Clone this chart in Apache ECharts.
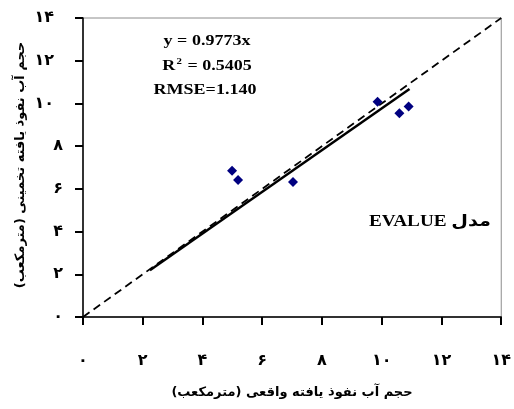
<!DOCTYPE html>
<html>
<head>
<meta charset="utf-8">
<script src="https://cdn.jsdelivr.net/npm/echarts@6/dist/echarts.min.js"></script>
<style>
html,body{margin:0;padding:0;background:#fff;}
#chart{width:514px;height:409px;}
</style>
</head>
<body>
<div id="chart"></div>
<script>
// ---- data ----
const tickValues = [0, 2, 4, 6, 8, 10, 12, 14];
const tickLabels = ['۰', '۲', '۴', '۶', '۸', '۱۰', '۱۲', '۱۴'];
const observed  = [4.99, 5.19, 7.03, 9.86, 10.59, 10.90];   // actual infiltrated volume
const estimated = [6.85, 6.41, 6.32, 10.08, 9.54, 9.86];    // estimated volume
const trendX = [2.24, 10.93];
const trendY = [2.19, 10.68];
const refX = [0, 14];
const refY = [0, 14];
const eqText = 'y = 0.9773x';
const r2Value = '0.5405';
const rmseText = 'RMSE=1.140';
const modelText = 'مدل EVALUE';
const xTitle = 'حجم آب نفوذ یافته واقعی (مترمکعب)';
const yTitle = 'حجم آب نفوذ یافته تخمینی (مترمکعب)';

const RLE = '\u202B', PDF = '\u202C';
const serif = "'Liberation Serif', 'Times New Roman', 'DejaVu Sans', serif";
const arab = "'DejaVu Sans', 'Liberation Serif', serif";

const chart = echarts.init(document.getElementById('chart'), null, {renderer: 'canvas'});
const labelFor = v => tickLabels[tickValues.indexOf(v)];

const option = {
  animation: false,
  backgroundColor: '#fff',
  grid: {left: 83, top: 18, right: 12, bottom: 92, show: true, borderColor: '#8c8c8c', borderWidth: 1},
  xAxis: {
    type: 'value', min: 0, max: 14, interval: 2,
    axisLine: {show: true, onZero: false, lineStyle: {color: '#000', width: 1.5}},
    axisTick: {show: true, length: 8, lineStyle: {color: '#000', width: 2}},
    splitLine: {show: false},
    axisLabel: {show: true, margin: 36, fontSize: 16, fontWeight: 'bold', color: '#000', fontFamily: arab,
      showMinLabel: true, showMaxLabel: true, formatter: v => labelFor(v)}
  },
  yAxis: {
    type: 'value', min: 0, max: 14, interval: 2,
    axisLine: {show: true, onZero: false, lineStyle: {color: '#000', width: 1.5}},
    axisTick: {show: true, length: 8, lineStyle: {color: '#000', width: 2}},
    splitLine: {show: false},
    axisLabel: {show: true, margin: 20, fontSize: 16, fontWeight: 'bold', color: '#000', fontFamily: arab,
      showMinLabel: true, showMaxLabel: true,
      formatter: v => { const s = labelFor(v); return s.length > 1 ? '{d|' + s + '}' : '{s|' + s + '}'; },
      rich: {
        d: {fontSize: 16, fontWeight: 'bold', fontFamily: arab, color: '#000', padding: [0, 9, 0, 0]},
        s: {fontSize: 16, fontWeight: 'bold', fontFamily: arab, color: '#000'}
      }}
  },
  series: [
    {
      type: 'line', data: refX.map((x, i) => [x, refY[i]]), symbol: 'none', silent: true,
      lineStyle: {color: '#000', width: 1.8, type: [8, 5]}, z: 2
    },
    {
      type: 'line', data: trendX.map((x, i) => [x, trendY[i]]), symbol: 'none', silent: true,
      lineStyle: {color: '#000', width: 2.5}, z: 3
    },
    {
      type: 'scatter', data: observed.map((x, i) => [x, estimated[i]]),
      symbol: 'diamond', symbolSize: [10, 10], itemStyle: {color: '#000080', opacity: 1}, z: 4
    }
  ],
  graphic: [
    {type: 'text', x: 207, y: 41, scaleX: 1.2, style: {text: eqText, font: 'bold 15px ' + serif, fill: '#000', textAlign: 'center', textVerticalAlign: 'middle'}},
    {type: 'text', x: 207, y: 66, scaleX: 1.2, style: {
      text: '{r|R}{sup|2}{r| = ' + r2Value + '}', textAlign: 'center', textVerticalAlign: 'middle',
      rich: {
        r: {fontFamily: serif, fontWeight: 'bold', fontSize: 15, color: '#000'},
        sup: {fontFamily: serif, fontWeight: 'bold', fontSize: 9, color: '#000', verticalAlign: 'top', padding: [0, 1, 9, 1]}
      }}},
    {type: 'text', x: 205, y: 90, scaleX: 1.2, style: {text: rmseText, font: 'bold 15px ' + serif, fill: '#000', textAlign: 'center', textVerticalAlign: 'middle'}},
    {type: 'text', x: 430, y: 222, scaleX: 1.2, style: {text: RLE + modelText + PDF, font: 'bold 16px ' + serif, fill: '#000', textAlign: 'center', textVerticalAlign: 'middle'}},
    {type: 'text', x: 292, y: 393, style: {text: RLE + xTitle + PDF, font: 'bold 13px ' + arab, fill: '#000', textAlign: 'center', textVerticalAlign: 'middle'}},
    {type: 'text', x: 21, y: 165, rotation: Math.PI / 2, style: {text: RLE + yTitle + PDF, font: 'bold 13px ' + arab, fill: '#000', textAlign: 'center', textVerticalAlign: 'middle'}}
  ]
};
chart.setOption(option);
</script>
</body>
</html>
